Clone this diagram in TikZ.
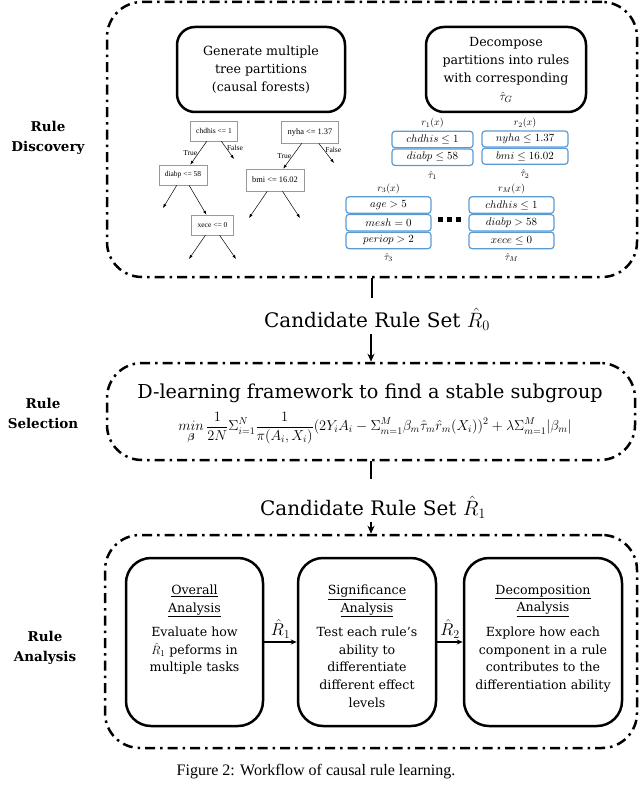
\documentclass[tikz,border=0pt]{standalone}
\usepackage{amsmath,amssymb}
\usepackage[no-math]{fontspec}
\setmainfont{DejaVu Serif}
\newfontfamily\timesfont{Liberation Serif}
\usetikzlibrary{positioning,arrows.meta}
\definecolor{ruleblue}{RGB}{91,155,213}
\newcommand{\stagetext}[2]{\parbox[c][168pt][t]{#1}{\centering\vspace*{27pt}#2}}

\tikzset{
  phase/.style={draw, line width=2.5pt, dash pattern=on 10pt off 5pt on 2.5pt off 5pt,
    rounded corners=35pt, inner sep=0pt},
  phaselabel/.style={align=center, font=\fontsize{13.5}{20}\selectfont\bfseries},
  task/.style={draw, line width=2.5pt, rounded corners=18pt, align=center, inner sep=0pt,
    font=\fontsize{12.6}{18}\selectfont},
  stage/.style={draw, line width=2.5pt, rounded corners=25pt, inner sep=0pt,
    minimum height=168pt, font=\fontsize{12.6}{17.6}\selectfont},
  split/.style={draw=gray!80, line width=0.6pt, inner xsep=6pt, minimum height=20pt,
    font=\timesfont\fontsize{7.5}{8}\selectfont},
  bigsplit/.style={split, minimum height=22pt, font=\timesfont\fontsize{8.4}{9}\selectfont},
  branch/.style={-{Latex[length=4pt,width=3pt]}, line width=0.5pt},
  edgelbl/.style={font=\timesfont\fontsize{7.5}{8}\selectfont, inner sep=1pt},
  rulebox/.style={draw=ruleblue, line width=1.2pt, rounded corners=3pt, minimum width=85pt,
    minimum height=16.5pt, inner sep=0pt, font=\fontsize{11}{11}\selectfont},
  rulelbl/.style={font=\fontsize{10}{10}\selectfont, inner sep=1pt},
  candset/.style={font=\fontsize{20}{24}\selectfont, inner sep=3pt},
  flow/.style={-{Stealth[length=8pt,width=7pt]}, line width=2.2pt},
  link/.style={-{Stealth[length=6pt,width=5pt]}, line width=1.2pt},
}

\begin{document}
\begin{tikzpicture}[x=1pt,y=-1pt]
  \useasboundingbox (0,0) rectangle (640,789);

  % the three phases
  \node[phase, minimum width=530pt, minimum height=275pt] (disc) at (372,139.5) {};
  \node[phase, minimum width=528pt, minimum height=97pt] (sel) at (371,411.5) {};
  \node[phase, minimum width=532pt, minimum height=213pt] (ana) at (371,641.5) {};
  \node[phaselabel] (disclbl) at (48,138) {Rule\\Discovery};
  \node[phaselabel] (sellbl) at (43,413) {Rule\\Selection};
  \node[phaselabel] (analbl) at (45,648) {Rule\\Analysis};

  % rule discovery
  \node[task, minimum width=168pt, minimum height=85pt] (gen) at (261,69.5)
    {Generate multiple\\tree partitions\\(causal forests)};
  \node[task, minimum width=160pt, minimum height=85pt] (dec) at (506,69.5)
    {Decompose\\partitions into rules\\with corresponding\\$\hat{\tau}_G$};

  \node[split] (t1) at (214,131) {chdhis <= 1};
  \node[split] (t1l) at (183,175) {diabp <= 58};
  \node[split] (t1lr) at (212.5,225) {xece <= 0};
  \coordinate (t1r) at (234,159);
  \coordinate (t1ll) at (163,208);
  \coordinate (t1lrl) at (189,259);
  \coordinate (t1lrr) at (236,259);
  \draw[branch] (t1) -- (t1l) node[edgelbl, midway, left] {True};
  \draw[branch] (t1) -- (t1r) node[edgelbl, pos=0.35, right] {False};
  \draw[branch] (t1l) -- (t1ll);
  \draw[branch] (t1l) -- (t1lr);
  \draw[branch] (t1lr) -- (t1lrl);
  \draw[branch] (t1lr) -- (t1lrr);

  \node[bigsplit] (t2) at (310,132) {nyha <= 1.37};
  \node[bigsplit] (t2l) at (275,180) {bmi <= 16.02};
  \coordinate (t2r) at (334,163);
  \coordinate (t2ll) at (249,218);
  \coordinate (t2lr) at (300,218);
  \draw[branch] (t2) -- (t2l) node[edgelbl, midway, left] {True};
  \draw[branch] (t2) -- (t2r) node[edgelbl, pos=0.35, right] {False};
  \draw[branch] (t2l) -- (t2ll);
  \draw[branch] (t2l) -- (t2lr);

  \node[rulebox, minimum width=81pt] (r1a) at (432.5,139.5) {$chdhis \leq 1$};
  \node[rulebox, minimum width=81pt, below=0pt of r1a] (r1b) {$diabp \leq 58$};
  \node[rulelbl, above=1pt of r1a] (r1lbl) {$r_1(x)$};
  \node[rulelbl, below=4pt of r1b] (tau1) {$\hat{\tau}_1$};

  \node[rulebox, minimum width=86pt, minimum height=16pt] (r2a) at (525,139) {$nyha \leq 1.37$};
  \node[rulebox, minimum width=86pt, minimum height=16pt, below=0pt of r2a] (r2b) {$bmi \leq 16.02$};
  \node[rulelbl, above=1pt of r2a] (r2lbl) {$r_2(x)$};
  \node[rulelbl, below=4pt of r2b] (tau2) {$\hat{\tau}_2$};

  \node[rulebox] (r3a) at (388.5,205) {$age > 5$};
  \node[rulebox, below=0pt of r3a] (r3b) {$mesh = 0$};
  \node[rulebox, below=0pt of r3b] (r3c) {$periop > 2$};
  \node[rulelbl, above=1pt of r3a] (r3lbl) {$r_3(x)$};
  \node[rulelbl, below=3pt of r3c] (tau3) {$\hat{\tau}_3$};

  \node[rulebox] (rMa) at (511.5,205) {$chdhis \leq 1$};
  \node[rulebox, below=0pt of rMa] (rMb) {$diabp > 58$};
  \node[rulebox, below=0pt of rMb] (rMc) {$xece \leq 0$};
  \node[rulelbl, above=1pt of rMa] (rMlbl) {$r_M(x)$};
  \node[rulelbl, below=3pt of rMc] (tauM) {$\hat{\tau}_M$};

  \node[inner sep=0pt] (dots) at (449,219)
    {\rule{5pt}{5pt}\hspace{4pt}\rule{5pt}{5pt}\hspace{4pt}\rule{5pt}{5pt}};

  % candidate set R0
  \node[candset] (cand0) at (377,319.5) {Candidate Rule Set $\hat{R}_0$};
  \draw[line width=2.5pt, shorten >=7pt] (disc.south) -- (disc.south |- cand0.north);
  \draw[flow] (sel.north |- cand0.south) -- (sel.north);

  % rule selection
  \node[font=\fontsize{19.2}{23}\selectfont] (dlearn) at (370,393)
    {D-learning framework to find a stable subgroup};
  \node[font=\fontsize{14}{16}\selectfont] (objective) at (375,428)
    {$\displaystyle \underset{\boldsymbol{\beta}}{min}\,\frac{1}{2N}\Sigma_{i=1}^{N}\frac{1}{\pi(A_i,X_i)}(2Y_iA_i-\Sigma_{m=1}^{M}\beta_m\hat{\tau}_m\hat{r}_m(X_i))^2+\lambda\Sigma_{m=1}^{M}|\beta_m|$};

  % candidate set R1
  \node[candset] (cand1) at (373,507.5) {Candidate Rule Set $\hat{R}_1$};
  \draw[line width=2.5pt, shorten >=14pt] (sel.south) -- (sel.south |- cand1.north);
  \draw[flow] (ana.north |- cand1.south) -- (ana.north);

  % rule analysis
  \node[stage, minimum width=137pt] (overall) at (194.5,642)
    {\stagetext{130pt}{\underline{Overall}\\\underline{Analysis}\\[7pt]Evaluate how\\$\hat{R}_1$ peforms in\\multiple tasks}};
  \node[stage, minimum width=138pt] (signif) at (367,642)
    {\stagetext{130pt}{\underline{Significance}\\\underline{Analysis}\\[7pt]Test each rule’s\\ability to\\differentiate\\different effect\\levels}};
  \node[stage, minimum width=158pt] (decomp) at (543,642)
    {\stagetext{152pt}{\underline{Decomposition}\\\underline{Analysis}\\[7pt]Explore how each\\component in a rule\\contributes to the\\differentiation ability}};
  \draw[link] (overall) -- (signif) node[midway, above, font=\fontsize{17}{17}\selectfont] {$\hat{R}_1$};
  \draw[link] (signif) -- (decomp) node[midway, above, font=\fontsize{17}{17}\selectfont] {$\hat{R}_2$};

  \node[font=\timesfont\fontsize{16}{18}\selectfont] (caption) at (316,772)
    {Figure 2: Workflow of causal rule learning.};
\end{tikzpicture}
\end{document}
